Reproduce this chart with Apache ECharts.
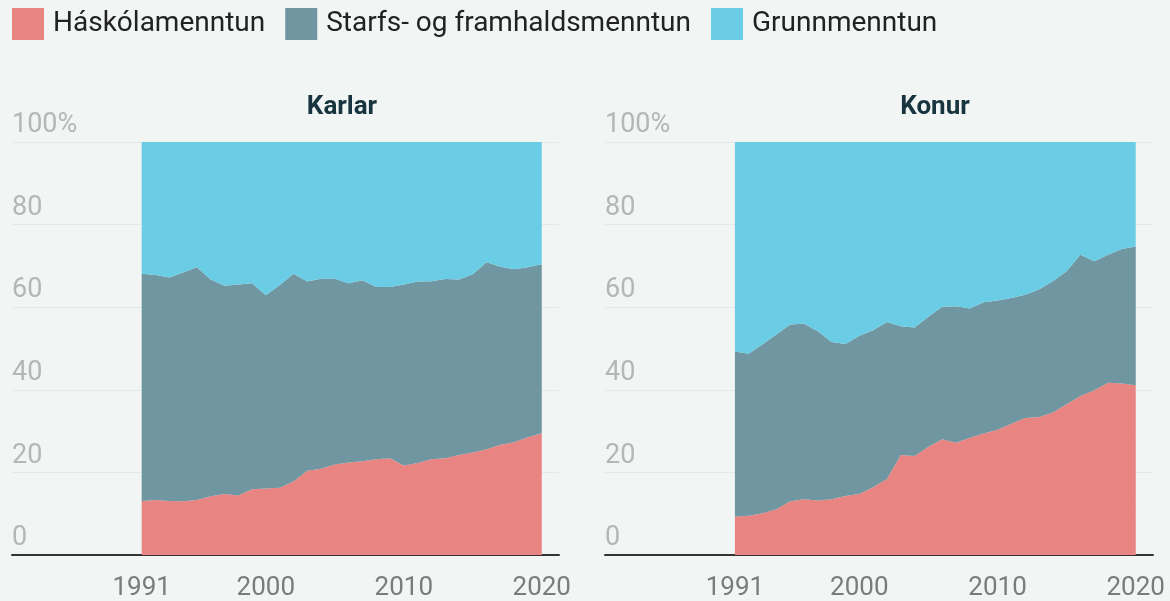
<!DOCTYPE html>
<html>
<head>
<meta charset="utf-8">
<script src="https://cdn.jsdelivr.net/npm/echarts@6/dist/echarts.min.js"></script>
<style>
  html, body { margin: 0; padding: 0; background: #f1f5f4; }
  #main { width: 1170px; height: 601px; }
</style>
</head>
<body>
<div id="main"></div>
<script>
// years 1991-2020
const years = [1991, 1992, 1993, 1994, 1995, 1996, 1997, 1998, 1999, 2000,
  2001, 2002, 2003, 2004, 2005, 2006, 2007, 2008, 2009, 2010,
  2011, 2012, 2013, 2014, 2015, 2016, 2017, 2018, 2019, 2020];

// Karlar (%)
const karlarHask = [13.1, 13.3, 13.1, 13.0, 13.3, 14.2, 14.8, 14.4, 15.9, 16.1,
  16.3, 17.8, 20.4, 20.9, 21.9, 22.4, 22.7, 23.2, 23.4, 21.7,
  22.3, 23.2, 23.4, 24.2, 24.8, 25.6, 26.7, 27.3, 28.5, 29.5];
const karlarStarfs = [55.0, 54.5, 54.1, 55.4, 56.4, 52.5, 50.4, 51.1, 49.9, 46.8,
  49.0, 50.3, 45.8, 46.0, 45.0, 43.4, 43.8, 41.7, 41.5, 43.8,
  43.9, 43.1, 43.4, 42.5, 43.2, 45.3, 43.1, 41.9, 41.2, 40.9];
const karlarGrunn = [31.9, 32.2, 32.8, 31.6, 30.3, 33.3, 34.8, 34.5, 34.2, 37.1,
  34.7, 31.9, 33.8, 33.1, 33.1, 34.2, 33.5, 35.1, 35.1, 34.5,
  33.8, 33.7, 33.2, 33.3, 32.0, 29.1, 30.2, 30.8, 30.3, 29.6];

// Konur (%)
const konurHask = [9.3, 9.5, 10.1, 11.1, 13.0, 13.5, 13.2, 13.5, 14.3, 14.8,
  16.4, 18.4, 24.2, 24.0, 26.2, 28.0, 27.2, 28.4, 29.4, 30.3,
  31.8, 33.2, 33.4, 34.5, 36.5, 38.5, 39.9, 41.7, 41.5, 41.1];
const konurStarfs = [40.0, 39.2, 40.9, 42.3, 42.8, 42.5, 41.0, 38.1, 36.8, 38.3,
  38.0, 38.0, 31.2, 31.1, 31.5, 32.1, 33.0, 31.3, 31.8, 31.3,
  30.4, 29.8, 30.9, 31.8, 32.2, 34.2, 31.2, 31.0, 32.6, 33.6];
const konurGrunn = [50.7, 51.3, 49.0, 46.6, 44.2, 44.0, 45.8, 48.4, 48.9, 46.9,
  45.6, 43.6, 44.6, 44.9, 42.3, 39.9, 39.8, 40.3, 38.8, 38.4,
  37.8, 37.0, 35.7, 33.7, 31.3, 27.3, 28.9, 27.3, 25.9, 25.3];

const panelTitles = ['Karlar', 'Konur'];
const seriesNames = ['Háskólamenntun', 'Starfs- og framhaldsmenntun', 'Grunnmenntun'];
const colors = ['#e88482', '#6f96a1', '#6acde5'];
const xTicks = [1991, 2000, 2010, 2020];

const panels = [
  [karlarHask, karlarStarfs, karlarGrunn],
  [konurHask, konurStarfs, konurGrunn]
];

// value first so the stack runs on the y dimension
const pairs = vals => years.map((y, i) => [vals[i], y]);

const grids = [
  { left: 12, top: 142, width: 547, height: 414 },
  { left: 605, top: 142, width: 548, height: 414 }
];

const xAxes = grids.map((g, i) => ({
  type: 'value',
  gridIndex: i,
  min: 1981.6,
  max: 2021.25,
  axisLine: { show: true, onZero: false, lineStyle: { color: '#333', width: 2 } },
  axisTick: { show: false },
  splitLine: { show: false },
  axisLabel: {
    customValues: xTicks,
    formatter: v => String(v),
    fontSize: 26,
    color: '#7b7b7b',
    margin: 20,
    fontFamily: 'Roboto'
  }
}));

const yAxes = grids.map((g, i) => ({
  type: 'value',
  gridIndex: i,
  min: 0,
  max: 100,
  interval: 20,
  axisLine: { show: false },
  axisTick: { show: false },
  splitLine: { lineStyle: { color: '#e3e9e9', width: 1 } },
  axisLabel: {
    inside: true,
    margin: 0,
    align: 'left',
    verticalAlign: 'bottom',
    padding: [0, 0, 3, 0],
    fontSize: 27,
    color: '#b3b7b7',
    fontFamily: 'Roboto',
    formatter: v => (v === 100 ? '100%' : String(v))
  }
}));

const series = [];
panels.forEach((p, gi) => {
  p.forEach((vals, si) => {
    series.push({
      name: seriesNames[si],
      type: 'line',
      xAxisIndex: gi,
      yAxisIndex: gi,
      stack: 'panel' + gi,
      encode: { x: 1, y: 0 },
      data: pairs(vals),
      showSymbol: false,
      symbol: 'none',
      lineStyle: { width: 0 },
      itemStyle: { color: colors[si] },
      areaStyle: { color: colors[si], opacity: 1 },
      emphasis: { disabled: true },
      silent: true
    });
  });
});

const chart = echarts.init(document.getElementById('main'));
chart.setOption({
  backgroundColor: '#f1f5f4',
  animation: false,
  legend: {
    left: 7,
    top: 3,
    itemWidth: 32,
    itemHeight: 32,
    itemGap: 20,
    icon: 'rect',
    data: seriesNames,
    textStyle: { fontSize: 28, color: '#222', fontFamily: 'Roboto', padding: [0, 0, 0, 4] }
  },
  title: panelTitles.map((t, i) => ({
    text: t,
    left: grids[i].left + 325,
    top: 89,
    textAlign: 'center',
    textStyle: { fontSize: 26, fontWeight: 'bold', color: '#17343f', fontFamily: 'Roboto' }
  })),
  grid: grids,
  xAxis: xAxes,
  yAxis: yAxes,
  series: series
});
</script>
</body>
</html>
